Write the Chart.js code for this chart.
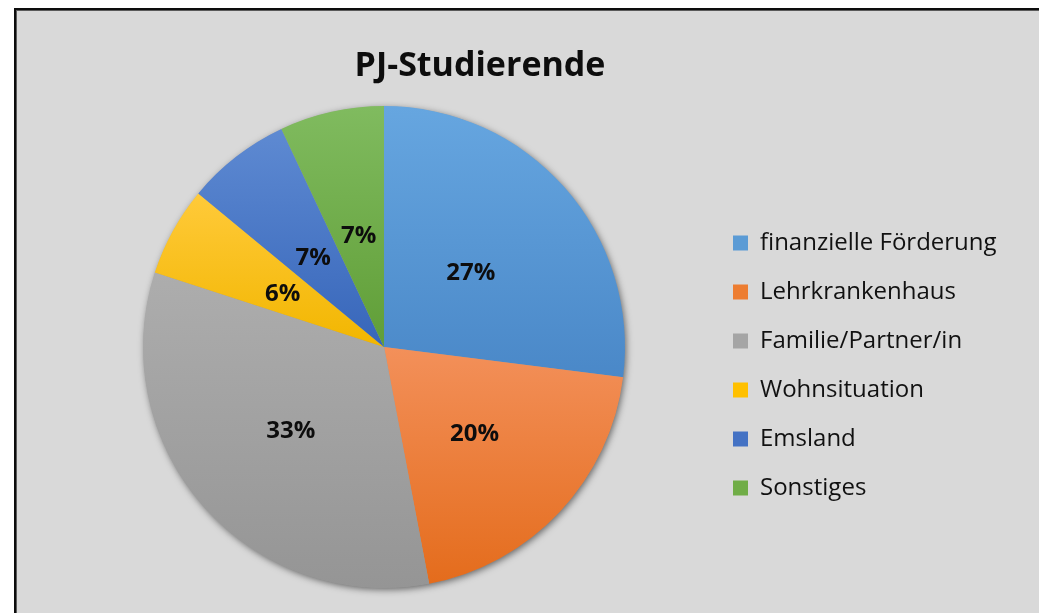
<!DOCTYPE html>
<html>
<head>
<meta charset="utf-8">
<script src="https://cdn.jsdelivr.net/npm/chart.js@4.4.1/dist/chart.umd.min.js"></script>
<style>
  html, body { margin: 0; padding: 0; background: #ffffff; overflow: hidden; }
  body { width: 1039px; height: 613px; position: relative; }
  #frame {
    position: absolute; left: 14px; top: 8px; width: 1100px; height: 700px;
    background: #d9d9d9; border: 2px solid #0d0d0d; box-sizing: border-box;
    box-shadow: inset 1px 1px 0 #5a5a5a;
  }
  #c { position: absolute; left: 16px; top: 10px; }
</style>
</head>
<body>
<div id="frame"></div>
<canvas id="c" width="1023" height="603"></canvas>
<script>
const chartTitle = 'PJ-Studierende';
const categories = ['finanzielle Förderung', 'Lehrkrankenhaus', 'Familie/Partner/in', 'Wohnsituation', 'Emsland', 'Sonstiges'];
const shares = [27, 20, 33, 6, 7, 7];
const baseColors = ['#5b9bd5', '#ed7d31', '#a5a5a5', '#ffc000', '#4472c4', '#70ad47'];
const lightColors = ['#66a6e0', '#f3905a', '#adadad', '#ffca3a', '#5e8ad2', '#80bb5f'];
const darkColors  = ['#4a88c8', '#e46c1c', '#959595', '#f2b600', '#3766ba', '#609e37'];

const FONT = '"Open Sans", "Noto Sans", Lato, sans-serif';

function sliceGradient(context) {
  const chart = context.chart;
  const i = context.dataIndex;
  const area = chart.chartArea;
  if (!area || i === undefined) return baseColors[i] || '#999';
  const cx = (area.left + area.right) / 2;
  const cy = (area.top + area.bottom) / 2;
  const R = Math.min(area.right - area.left, area.bottom - area.top) / 2;
  const total = shares.reduce((a, b) => a + b, 0);
  let cum = 0;
  for (let k = 0; k < i; k++) cum += shares[k];
  const a0 = -Math.PI / 2 + 2 * Math.PI * cum / total;
  const a1 = a0 + 2 * Math.PI * shares[i] / total;
  let ymin = cy, ymax = cy;
  const steps = 60;
  for (let s = 0; s <= steps; s++) {
    const a = a0 + (a1 - a0) * s / steps;
    const y = cy + R * Math.sin(a);
    ymin = Math.min(ymin, y); ymax = Math.max(ymax, y);
  }
  if (ymax - ymin < 1) ymax = ymin + 1;
  const g = chart.ctx.createLinearGradient(0, ymin, 0, ymax);
  g.addColorStop(0, lightColors[i]);
  g.addColorStop(1, darkColors[i]);
  return g;
}

const shadowPlugin = {
  id: 'pieShadow',
  beforeDatasetsDraw(chart) {
    const arc = chart.getDatasetMeta(0).data[0];
    if (!arc) return;
    const ctx = chart.ctx;
    ctx.save();
    ctx.shadowColor = 'rgba(0,0,0,0.55)';
    ctx.shadowBlur = 7;
    ctx.shadowOffsetX = 1.5;
    ctx.shadowOffsetY = 2;
    ctx.fillStyle = '#9a9a9a';
    ctx.beginPath();
    ctx.arc(arc.x, arc.y, arc.outerRadius - 0.5, 0, Math.PI * 2);
    ctx.fill();
    ctx.restore();
  }
};

const pctLabels = {
  id: 'pctLabels',
  afterDatasetsDraw(chart) {
    const ctx = chart.ctx;
    const meta = chart.getDatasetMeta(0);
    const data = chart.data.datasets[0].data;
    const total = data.reduce((a, b) => a + b, 0);
    ctx.save();
    ctx.font = 'bold 24px ' + FONT;
    ctx.fillStyle = '#0d0d0d';
    ctx.textAlign = 'center';
    ctx.textBaseline = 'middle';
    meta.data.forEach((arc, i) => {
      const mid = (arc.startAngle + arc.endAngle) / 2;
      const lower = Math.sin(mid) > 0;
      const r = arc.outerRadius * (lower ? 0.515 : 0.48);
      const x = arc.x + r * Math.cos(mid);
      const y = arc.y + r * Math.sin(mid) + 2.5;
      ctx.fillText(Math.round(data[i] / total * 100) + '%', x, y);
    });
    ctx.restore();
  }
};

// The legend box is sized by the layout; let its text run past the box edge
const legendOverflow = {
  id: 'legendOverflow',
  afterLayout(chart) {
    const lg = chart.legend;
    if (!lg) return;
    lg.right = chart.width;
    lg.width = lg.right - lg.left;
  }
};

function build() {
  new Chart(document.getElementById('c'), {
    type: 'pie',
    data: {
      labels: categories,
      datasets: [{
        data: shares,
        backgroundColor: sliceGradient,
        borderWidth: 0
      }]
    },
    options: {
      responsive: false,
      animation: false,
      layout: { padding: { left: 8, right: 103, top: 0, bottom: 25 } },
      plugins: {
        tooltip: { enabled: false },
        title: {
          display: true,
          text: chartTitle,
          color: '#0d0d0d',
          font: { family: FONT, size: 34, weight: 'bold', lineHeight: 1.2 },
          padding: { top: 35.5, bottom: 19.7 }
        },
        subtitle: {
          display: true,
          text: '',
          position: 'left',
          fullSize: false,
          font: { size: 10, lineHeight: 1.2 },
          padding: { top: 24, bottom: 0 }
        },
        legend: {
          display: true,
          position: 'right',
          fullSize: false,
          align: 'center',
          title: { display: true, text: '', font: { size: 10, lineHeight: 1.2 }, padding: { top: 25, bottom: 0 } },
          labels: {
            boxWidth: 15,
            boxHeight: 15,
            padding: 25,
            color: '#111111',
            font: { family: FONT, size: 24 },
            generateLabels(chart) {
              const items = Chart.overrides.pie.plugins.legend.labels.generateLabels(chart);
              items.forEach((it, i) => { it.fillStyle = baseColors[i]; it.strokeStyle = baseColors[i]; it.lineWidth = 0; });
              return items;
            }
          }
        }
      }
    },
    plugins: [shadowPlugin, pctLabels, legendOverflow]
  });
}

Promise.all([
  document.fonts.load('bold 34px "Open Sans"'),
  document.fonts.load('24px "Open Sans"'),
  document.fonts.load('bold 24px "Open Sans"')
]).then(build, build);
</script>
</body>
</html>
